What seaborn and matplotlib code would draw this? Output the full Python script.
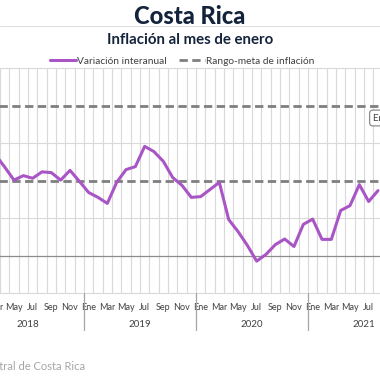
import numpy as np
import pandas as pd
import matplotlib
matplotlib.use("Agg")
import matplotlib.pyplot as plt
import matplotlib.transforms as mtransforms
from matplotlib.lines import Line2D
import seaborn as sns

# ── datos ─────────────────────────────────────────────
# variación interanual del IPC (%), mar-2018 a ago-2021
meses_idx = list(range(2, 44))   # 0 = enero 2018
variacion = [2.69, 2.36, 2.01, 2.13, 2.06, 2.23, 2.21, 2.01, 2.27, 1.98,
             1.68, 1.55, 1.39, 1.95, 2.29, 2.37, 2.91, 2.77, 2.51, 2.08, 1.87, 1.55,
             1.57, 1.76, 1.95, 0.96, 0.64, 0.27, -0.15, 0.03, 0.29, 0.44, 0.24, 0.83,
             0.97, 0.43, 0.43, 1.20, 1.33, 1.89, 1.44, 1.73]
meta_inferior = 2.0
meta_superior = 4.0

mes_labels = ['Ene', 'Mar', 'May', 'Jul', 'Sep', 'Nov']
anios = ['2018', '2019', '2020', '2021']

df = pd.DataFrame({'mes': meses_idx, 'valor': variacion})

# ── estilo ────────────────────────────────────────────
sns.set_style('white')
plt.rcParams['font.family'] = ['Lato', 'DejaVu Sans']

navy = '#14233c'
purpura = '#a955c6'
gris_meta = '#7f7f7f'
gris_txt = '#404040'

W = 380.0
fig = plt.figure(figsize=(3.8, 3.8), dpi=100)
# el área del gráfico sobresale de la imagen a ambos lados
ax = fig.add_axes([-28 / W, 87 / W, 448 / W, 225 / W])
ax.set_xlim(-0.5, 47.5)
ax.set_ylim(-1, 5)

# rejilla vertical en los límites de cada mes
ax.set_xticks(np.arange(-0.5, 48, 1), minor=True)
ax.grid(True, which='minor', axis='x', color='#d9d9d9', lw=0.8)
ax.set_xticks(np.arange(0, 48, 2))
ax.set_xticklabels(mes_labels * 4, fontsize=6.5, color=gris_txt)
ax.tick_params(axis='x', which='both', length=0, pad=7)
ax.set_yticks([])
for s in ax.spines.values():
    s.set_visible(False)

for yv in [1, 3, 5, -1]:
    ax.axhline(yv, color='#d9d9d9', lw=0.8, clip_on=False, zorder=1)
ax.axhline(0, color='#8c8c8c', lw=0.9, zorder=1)

for yv in [meta_inferior, meta_superior]:
    ax.axhline(yv, color=gris_meta, lw=2.0, ls=(0, (3, 1.6)), zorder=2)

sns.lineplot(data=df, x='mes', y='valor', ax=ax, color=purpura, lw=2.2,
             solid_joinstyle='round', solid_capstyle='round', zorder=3)
ax.set_xlabel('')
ax.set_ylabel('')

# separadores de año y etiquetas de año
trans = mtransforms.blended_transform_factory(ax.transData, ax.transAxes)
for i in range(5):
    ax.plot([i * 12 - 0.5] * 2, [0, -0.165], color='#a6a6a6', lw=0.9,
            transform=trans, clip_on=False)
for i, a in enumerate(anios):
    ax.text(i * 12 + 5.5, -0.138, a, transform=trans, ha='center', va='center',
            fontsize=7, color=gris_txt)

# títulos
fig.text(0.5, 1 - 17 / W, 'Costa Rica', ha='center', va='center',
         fontsize=17, fontweight='black', color=navy)
fig.add_artist(Line2D([0, 1], [1 - 25.5 / W] * 2, color='#e0e0e0', lw=0.8))
fig.text(0.5, 1 - 39.5 / W, 'Inflación al mes de enero', ha='center', va='center',
         fontsize=10.8, fontweight='bold', color=navy)

handles = [Line2D([], [], color=purpura, lw=2.2),
           Line2D([], [], color=gris_meta, lw=2.0, ls=(0, (3, 1.6)))]
fig.legend(handles, ['Variación interanual', 'Rango-meta de inflación'],
           loc='center', bbox_to_anchor=(0.48, 1 - 61 / W), ncol=2, frameon=False,
           fontsize=7.3, handlelength=2.6, handletextpad=0.1, columnspacing=1.2,
           labelcolor=gris_txt)

# recuadro de anotación cortado a la derecha
fig.text(373 / W, 1 - 118 / W, 'Enero 2022', ha='left', va='center', fontsize=7,
         color=gris_txt,
         bbox=dict(boxstyle='round,pad=0.35', fc='white', ec='#8c8c8c', lw=0.9))

fig.text(85 / W, 1 - 366 / W, 'Fuente: Banco Central de Costa Rica', ha='right',
         va='center', fontsize=8, color='#a6a6a6')

fig.savefig('out.png', dpi=100)
